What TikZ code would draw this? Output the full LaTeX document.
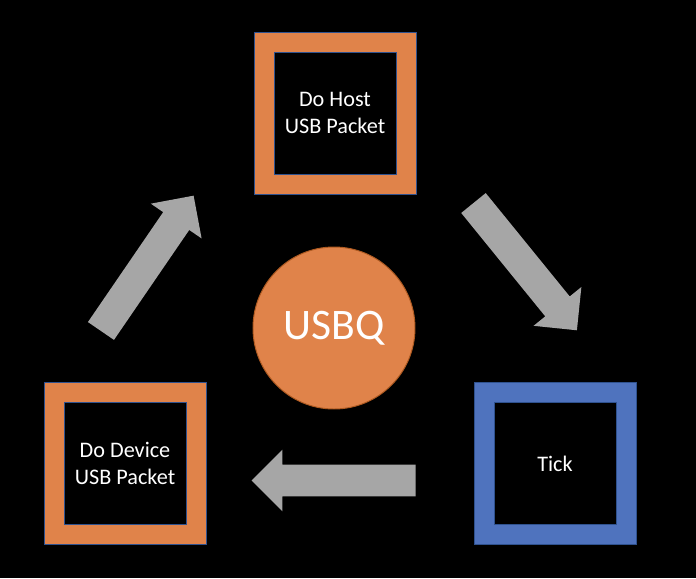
\documentclass[tikz,border=0pt]{standalone}
\usepackage{fontspec}
\setmainfont{Carlito}
\usetikzlibrary{shapes.arrows}
\definecolor{Accent}{HTML}{E0834A}
\definecolor{AccentDark}{HTML}{AE5A21}
\definecolor{TickBlue}{HTML}{4F73BE}
\definecolor{Edge}{HTML}{2F528F}
\definecolor{Flow}{HTML}{A6A6A6}

\begin{document}
\begin{tikzpicture}[
  outerbox/.style={draw=Edge,line width=0.7pt,minimum size=4.05cm,inner sep=0pt},
  slot/.style={draw=Edge,line width=0.7pt,fill=black,minimum size=3.05cm,inner sep=0pt,align=center,text=white,font=\fontsize{15.8}{18.9}\selectfont},
  flow/.style={single arrow,fill=Flow,minimum height=4.1cm,inner xsep=0pt,inner ysep=0.3875cm,single arrow head extend=0.375cm,anchor=tail}
]
\fill[black] (-8.35,-6.25) rectangle (9.05,8.2);
\node[outerbox,fill=Accent] (hostbox) at (0.025,5.375) {};
\node[slot] (host) at (hostbox) {Do Host\\USB Packet};
\node[outerbox,fill=TickBlue] (tickbox) at (5.525,-3.3875) {};
\node[slot] (tick) at (tickbox) {Tick};
\node[outerbox,fill=Accent] (devicebox) at (-5.225,-3.3875) {};
\node[slot] (device) at (devicebox) {Do Device\\USB Packet};
\node[circle,fill=Accent,draw=AccentDark,line width=0.7pt,minimum size=4.05cm,text=white,font=\fontsize{31}{36}\selectfont] (usbq) at (0,0) {USBQ};
\node[flow,rotate=55.6] (tohost) at (-5.83,-0.08) {};
\node[flow,rotate=-50.9] (totick) at (3.4825,3.13) {};
\node[flow,rotate=180] (todevice) at (2.05,-3.8125) {};
\end{tikzpicture}
\end{document}
